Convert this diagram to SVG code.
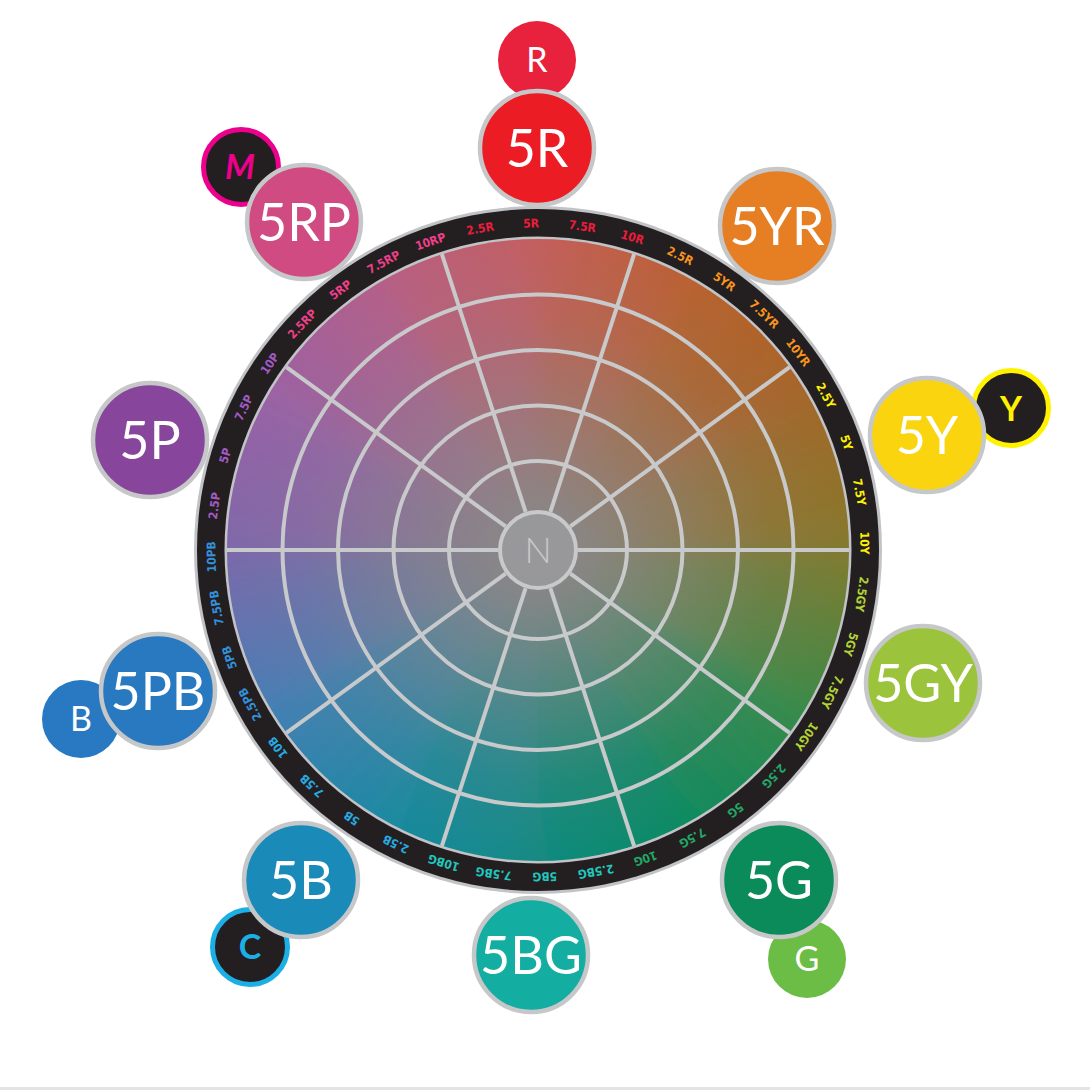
<svg xmlns="http://www.w3.org/2000/svg" width="1090" height="1090" viewBox="0 0 1090 1090">
<style>
.lbl{font-family:"DejaVu Sans Condensed","DejaVu Sans",sans-serif;font-stretch:condensed;font-weight:bold;font-size:12px;text-anchor:middle}
.big{font-family:Lato,"Liberation Sans",sans-serif;font-size:52px;fill:#fff;text-anchor:middle}
.sm{font-family:Lato,"Liberation Sans",sans-serif;font-size:34px;text-anchor:middle}
.bigc{stroke:#c6c7c9;stroke-width:4.5}
.grid{fill:none;stroke:#c8c9cb;stroke-width:4}
.r{fill:#ee1c3c}.yr{fill:#f7941d}.y{fill:#fff200}.gy{fill:#b2d235}.g{fill:#22a866}.bg{fill:#21c6bd}.b{fill:#27aae1}.pb{fill:#3290dc}.p{fill:#a45ac6}.rp{fill:#ee3f88}
</style>
<defs>
<filter id="soft" x="-10%" y="-10%" width="120%" height="120%"><feGaussianBlur stdDeviation="11"/></filter>
<clipPath id="disk"><circle cx="538" cy="550" r="311"/></clipPath>
<linearGradient id="w0" gradientUnits="userSpaceOnUse" x1="538" y1="210" x2="708" y2="255.6"><stop offset="0" stop-color="#c45e5e"/><stop offset="1" stop-color="#b9622f"/></linearGradient>
<linearGradient id="w1" gradientUnits="userSpaceOnUse" x1="708" y1="255.6" x2="832.4" y2="380"><stop offset="0" stop-color="#b9622f"/><stop offset="1" stop-color="#a56628"/></linearGradient>
<linearGradient id="w2" gradientUnits="userSpaceOnUse" x1="832.4" y1="380" x2="878" y2="550"><stop offset="0" stop-color="#a56628"/><stop offset="1" stop-color="#847a2e"/></linearGradient>
<linearGradient id="w3" gradientUnits="userSpaceOnUse" x1="878" y1="550" x2="832.4" y2="720"><stop offset="0" stop-color="#847a2e"/><stop offset="1" stop-color="#3a8a48"/></linearGradient>
<linearGradient id="w4" gradientUnits="userSpaceOnUse" x1="832.4" y1="720" x2="708" y2="844.4"><stop offset="0" stop-color="#3a8a48"/><stop offset="1" stop-color="#0d8a5e"/></linearGradient>
<linearGradient id="w5" gradientUnits="userSpaceOnUse" x1="708" y1="844.4" x2="538" y2="890"><stop offset="0" stop-color="#0d8a5e"/><stop offset="1" stop-color="#128a82"/></linearGradient>
<linearGradient id="w6" gradientUnits="userSpaceOnUse" x1="538" y1="890" x2="368" y2="844.4"><stop offset="0" stop-color="#128a82"/><stop offset="1" stop-color="#1b89a3"/></linearGradient>
<linearGradient id="w7" gradientUnits="userSpaceOnUse" x1="368" y1="844.4" x2="243.6" y2="720"><stop offset="0" stop-color="#1b89a3"/><stop offset="1" stop-color="#457fb5"/></linearGradient>
<linearGradient id="w8" gradientUnits="userSpaceOnUse" x1="243.6" y1="720" x2="198" y2="550"><stop offset="0" stop-color="#457fb5"/><stop offset="1" stop-color="#7e68aa"/></linearGradient>
<linearGradient id="w9" gradientUnits="userSpaceOnUse" x1="198" y1="550" x2="243.6" y2="380"><stop offset="0" stop-color="#7e68aa"/><stop offset="1" stop-color="#9a62a5"/></linearGradient>
<linearGradient id="w10" gradientUnits="userSpaceOnUse" x1="243.6" y1="380" x2="368" y2="255.6"><stop offset="0" stop-color="#9a62a5"/><stop offset="1" stop-color="#b65f86"/></linearGradient>
<linearGradient id="w11" gradientUnits="userSpaceOnUse" x1="368" y1="255.6" x2="538" y2="210"><stop offset="0" stop-color="#b65f86"/><stop offset="1" stop-color="#c45e5e"/></linearGradient>
<radialGradient id="grey" gradientUnits="userSpaceOnUse" cx="538" cy="550" r="311">
<stop offset="0" stop-color="#8a8686" stop-opacity="1"/>
<stop offset="0.15" stop-color="#8a8686" stop-opacity="0.95"/>
<stop offset="0.45" stop-color="#8a8686" stop-opacity="0.55"/>
<stop offset="0.75" stop-color="#8a8686" stop-opacity="0.15"/>
<stop offset="1" stop-color="#8a8686" stop-opacity="0"/>
</radialGradient>
</defs>
<rect x="0" y="0" width="1090" height="1090" fill="#fff"/>
<rect x="0" y="1087" width="1090" height="3" fill="#e4e4e4"/>

<g id="ring">
<circle cx="538" cy="550" r="344" fill="#c2c3c6"/>
<circle cx="538" cy="550" r="341" fill="#231f20"/>
<circle cx="538" cy="550" r="313.5" fill="#c2c3c6"/>
</g>

<g id="disk-colour" clip-path="url(#disk)">
<g filter="url(#soft)">
<path d="M538,550 L538,210 A340,340 0 0 1 708,255.6 Z" fill="url(#w0)"/>
<path d="M538,550 L708,255.6 A340,340 0 0 1 832.4,380 Z" fill="url(#w1)"/>
<path d="M538,550 L832.4,380 A340,340 0 0 1 878,550 Z" fill="url(#w2)"/>
<path d="M538,550 L878,550 A340,340 0 0 1 832.4,720 Z" fill="url(#w3)"/>
<path d="M538,550 L832.4,720 A340,340 0 0 1 708,844.4 Z" fill="url(#w4)"/>
<path d="M538,550 L708,844.4 A340,340 0 0 1 538,890 Z" fill="url(#w5)"/>
<path d="M538,550 L538,890 A340,340 0 0 1 368,844.4 Z" fill="url(#w6)"/>
<path d="M538,550 L368,844.4 A340,340 0 0 1 243.6,720 Z" fill="url(#w7)"/>
<path d="M538,550 L243.6,720 A340,340 0 0 1 198,550 Z" fill="url(#w8)"/>
<path d="M538,550 L198,550 A340,340 0 0 1 243.6,380 Z" fill="url(#w9)"/>
<path d="M538,550 L243.6,380 A340,340 0 0 1 368,255.6 Z" fill="url(#w10)"/>
<path d="M538,550 L368,255.6 A340,340 0 0 1 538,210 Z" fill="url(#w11)"/>
</g>
<circle cx="538" cy="550" r="311" fill="url(#grey)"/>
</g>

<g id="grid" class="grid">
<circle cx="538" cy="550" r="89"/>
<circle cx="538" cy="550" r="144.5"/>
<circle cx="538" cy="550" r="200"/>
<circle cx="538" cy="550" r="255.5"/>
<line x1="538" y1="510" x2="538" y2="239" transform="rotate(18 538 550)"/>
<line x1="538" y1="510" x2="538" y2="239" transform="rotate(54 538 550)"/>
<line x1="538" y1="510" x2="538" y2="239" transform="rotate(90 538 550)"/>
<line x1="538" y1="510" x2="538" y2="239" transform="rotate(126 538 550)"/>
<line x1="538" y1="510" x2="538" y2="239" transform="rotate(162 538 550)"/>
<line x1="538" y1="510" x2="538" y2="239" transform="rotate(198 538 550)"/>
<line x1="538" y1="510" x2="538" y2="239" transform="rotate(234 538 550)"/>
<line x1="538" y1="510" x2="538" y2="239" transform="rotate(270 538 550)"/>
<line x1="538" y1="510" x2="538" y2="239" transform="rotate(306 538 550)"/>
<line x1="538" y1="510" x2="538" y2="239" transform="rotate(342 538 550)"/>
</g>

<g id="node-N">
<circle cx="538" cy="550" r="38" fill="#98989b" stroke="#c8c9cb" stroke-width="4"/>
<text x="538" y="563" style="font-family:Lato,'Liberation Sans',sans-serif;font-size:36px;font-weight:300;fill:#c8c8cb;text-anchor:middle">N</text>
</g>

<g id="ring-labels">
<text class="lbl r" x="538" y="227.5" transform="rotate(-1.2 538 550)">5R</text>
<text class="lbl r" x="538" y="227.5" transform="rotate(7.8 538 550)">7.5R</text>
<text class="lbl r" x="538" y="227.5" transform="rotate(16.8 538 550)">10R</text>
<text class="lbl yr" x="538" y="227.5" transform="rotate(25.8 538 550)">2.5R</text>
<text class="lbl yr" x="538" y="227.5" transform="rotate(34.8 538 550)">5YR</text>
<text class="lbl yr" x="538" y="227.5" transform="rotate(43.8 538 550)">7.5YR</text>
<text class="lbl yr" x="538" y="227.5" transform="rotate(52.8 538 550)">10YR</text>
<text class="lbl y" x="538" y="227.5" transform="rotate(61.8 538 550)">2.5Y</text>
<text class="lbl y" x="538" y="227.5" transform="rotate(70.8 538 550)">5Y</text>
<text class="lbl y" x="538" y="227.5" transform="rotate(79.8 538 550)">7.5Y</text>
<text class="lbl y" x="538" y="227.5" transform="rotate(88.8 538 550)">10Y</text>
<text class="lbl gy" x="538" y="227.5" transform="rotate(97.8 538 550)">2.5GY</text>
<text class="lbl gy" x="538" y="227.5" transform="rotate(106.8 538 550)">5GY</text>
<text class="lbl gy" x="538" y="227.5" transform="rotate(115.8 538 550)">7.5GY</text>
<text class="lbl gy" x="538" y="227.5" transform="rotate(124.8 538 550)">10GY</text>
<text class="lbl g" x="538" y="227.5" transform="rotate(133.8 538 550)">2.5G</text>
<text class="lbl g" x="538" y="227.5" transform="rotate(142.8 538 550)">5G</text>
<text class="lbl g" x="538" y="227.5" transform="rotate(151.8 538 550)">7.5G</text>
<text class="lbl g" x="538" y="227.5" transform="rotate(160.8 538 550)">10G</text>
<text class="lbl bg" x="538" y="227.5" transform="rotate(169.8 538 550)">2.5BG</text>
<text class="lbl bg" x="538" y="227.5" transform="rotate(178.8 538 550)">5BG</text>
<text class="lbl bg" x="538" y="227.5" transform="rotate(187.8 538 550)">7.5BG</text>
<text class="lbl bg" x="538" y="227.5" transform="rotate(196.8 538 550)">10BG</text>
<text class="lbl b" x="538" y="227.5" transform="rotate(205.8 538 550)">2.5B</text>
<text class="lbl b" x="538" y="227.5" transform="rotate(214.8 538 550)">5B</text>
<text class="lbl b" x="538" y="227.5" transform="rotate(223.8 538 550)">7.5B</text>
<text class="lbl b" x="538" y="227.5" transform="rotate(232.8 538 550)">10B</text>
<text class="lbl pb" x="538" y="227.5" transform="rotate(241.8 538 550)">2.5PB</text>
<text class="lbl pb" x="538" y="227.5" transform="rotate(250.8 538 550)">5PB</text>
<text class="lbl pb" x="538" y="227.5" transform="rotate(259.8 538 550)">7.5PB</text>
<text class="lbl pb" x="538" y="227.5" transform="rotate(268.8 538 550)">10PB</text>
<text class="lbl p" x="538" y="227.5" transform="rotate(277.8 538 550)">2.5P</text>
<text class="lbl p" x="538" y="227.5" transform="rotate(286.8 538 550)">5P</text>
<text class="lbl p" x="538" y="227.5" transform="rotate(295.8 538 550)">7.5P</text>
<text class="lbl p" x="538" y="227.5" transform="rotate(304.8 538 550)">10P</text>
<text class="lbl rp" x="538" y="227.5" transform="rotate(313.8 538 550)">2.5RP</text>
<text class="lbl rp" x="538" y="227.5" transform="rotate(322.8 538 550)">5RP</text>
<text class="lbl rp" x="538" y="227.5" transform="rotate(331.8 538 550)">7.5RP</text>
<text class="lbl rp" x="538" y="227.5" transform="rotate(340.8 538 550)">10RP</text>
<text class="lbl r" x="538" y="227.5" transform="rotate(349.8 538 550)">2.5R</text>
</g>

<g id="connectors"></g>

<g id="node-R"><circle cx="537" cy="60" r="39" fill="#e8213d"/><text class="sm" x="537" y="72" fill="#fff">R</text></g>
<g id="node-Y"><circle cx="1011" cy="408" r="37.5" fill="#231f20" stroke="#fff200" stroke-width="5"/><text class="sm" x="1011" y="421" fill="#fff200" font-weight="bold">Y</text></g>
<g id="node-G"><circle cx="807" cy="959" r="39" fill="#6cbd45"/><text class="sm" x="807" y="971" fill="#fff">G</text></g>
<g id="node-C"><circle cx="250" cy="947" r="37.5" fill="#231f20" stroke="#1cafe6" stroke-width="5"/><text class="sm" x="250" y="959" fill="#1cafe6" font-weight="bold">C</text></g>
<g id="node-B"><circle cx="81" cy="719" r="39" fill="#2878c2"/><text class="sm" x="81" y="731" fill="#fff">B</text></g>
<g id="node-M"><circle cx="241" cy="167" r="37.5" fill="#231f20" stroke="#ec008c" stroke-width="5"/><text class="sm" x="240" y="179" fill="#ec008c" font-weight="bold" font-style="italic">M</text></g>

<g id="node-5R"><circle class="bigc" cx="537" cy="148" r="57" fill="#ec1c24"/><text class="big" x="537" y="167">5R</text></g>
<g id="node-5YR"><circle class="bigc" cx="777" cy="226" r="57" fill="#e67f24"/><text class="big" x="777" y="245">5YR</text></g>
<g id="node-5Y"><circle class="bigc" cx="927" cy="435" r="57" fill="#f9d40f"/><text class="big" x="927" y="454">5Y</text></g>
<g id="node-5GY"><circle class="bigc" cx="923" cy="683" r="57" fill="#9bc43c"/><text class="big" x="923" y="702">5GY</text></g>
<g id="node-5G"><circle class="bigc" cx="779" cy="880" r="57" fill="#0b8a5a"/><text class="big" x="779" y="899">5G</text></g>
<g id="node-5BG"><circle class="bigc" cx="531" cy="955" r="57" fill="#13ada1"/><text class="big" x="531" y="974">5BG</text></g>
<g id="node-5B"><circle class="bigc" cx="301" cy="880" r="57" fill="#1a8bb9"/><text class="big" x="301" y="899">5B</text></g>
<g id="node-5PB"><circle class="bigc" cx="158" cy="691" r="57" fill="#2879c0"/><text class="big" x="158" y="710">5PB</text></g>
<g id="node-5P"><circle class="bigc" cx="150" cy="440" r="57" fill="#87459c"/><text class="big" x="150" y="459">5P</text></g>
<g id="node-5RP"><circle class="bigc" cx="304" cy="222" r="57" fill="#cf4b81"/><text class="big" x="304" y="241">5RP</text></g>
</svg>
